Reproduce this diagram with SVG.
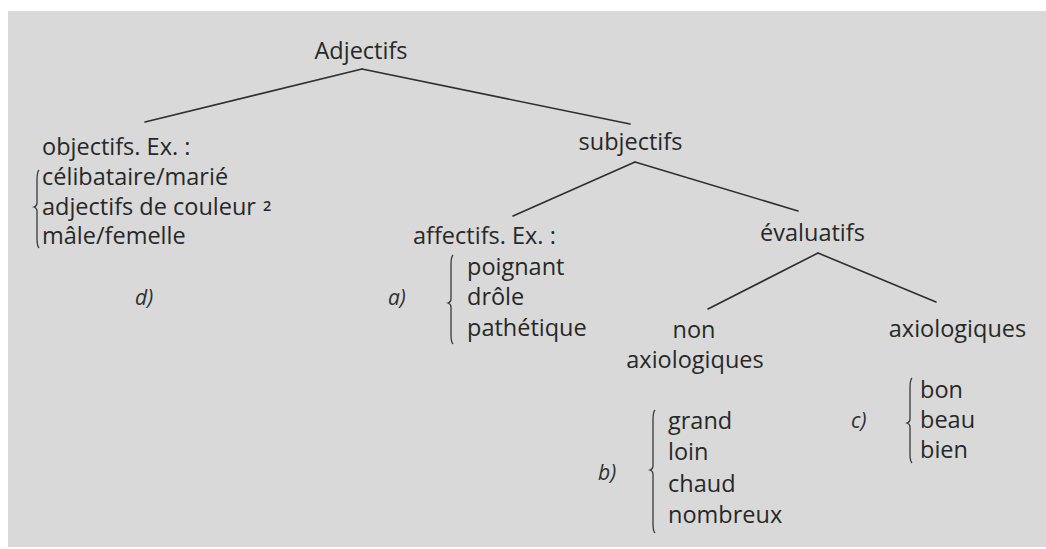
<svg xmlns="http://www.w3.org/2000/svg" width="1046" height="549" viewBox="0 0 1046 549">
<style>
.t{font-family:"Open Sans",Lato,"Liberation Sans",sans-serif;font-size:23.5px;fill:#282828;font-variant-ligatures:none}
.i{font-family:"Open Sans",Lato,"Liberation Sans",sans-serif;font-size:21px;font-style:italic;fill:#2e2e2e}
.e{stroke:#2e2e2e;stroke-width:1.6;fill:none;stroke-linecap:round}
.b{stroke:#3a3a3a;stroke-width:1.3;fill:none}
</style>
<rect width="1046" height="549" fill="#ffffff"/>
<rect x="8" y="11" width="1038" height="536" fill="#d9d9d9"/>
<g id="connectors">
<line class="e" x1="362" y1="69" x2="145" y2="122"/>
<line class="e" x1="362" y1="69" x2="630" y2="124"/>
<line class="e" x1="635" y1="162" x2="513" y2="216"/>
<line class="e" x1="635" y1="162" x2="798" y2="211"/>
<line class="e" x1="818" y1="253" x2="708" y2="309"/>
<line class="e" x1="818" y1="253" x2="936" y2="302"/>
</g>
<g id="adjectifs"><text class="t" x="361" y="59" text-anchor="middle">Adjectifs</text></g>
<g id="objectifs">
<text class="t" x="42" y="155">objectifs. Ex. :</text>
<path class="b" d="M39,170 Q37,172 37,180 L37,203 Q37,206 34,207 Q37,208 37,211 L37,238 Q37,246 39,248"/>
<text class="t" x="42" y="185">célibataire/marié</text>
<text class="t" x="42" y="215">adjectifs de couleur</text>
<text class="t" x="263" y="211" style="font-size:14.5px;font-weight:600">2</text>
<text class="t" x="42" y="244">mâle/femelle</text>
<text class="i" x="135" y="305">d)</text>
</g>
<g id="subjectifs"><text class="t" x="630.5" y="150" text-anchor="middle">subjectifs</text></g>
<g id="affectifs">
<text class="t" x="413" y="244">affectifs. Ex. :</text>
<path class="b" d="M453,255 Q451,257 451,265 L451,299 Q451,302 448,303 Q451,304 451,307 L451,335 Q451,342 453,344"/>
<text class="t" x="467" y="275">poignant</text>
<text class="t" x="467" y="305">drôle</text>
<text class="t" x="467" y="336">pathétique</text>
<text class="i" x="388" y="305">a)</text>
</g>
<g id="evaluatifs"><text class="t" x="812.5" y="241" text-anchor="middle">évaluatifs</text></g>
<g id="non-axiologiques">
<text class="t" x="694" y="338" text-anchor="middle">non</text>
<text class="t" x="695" y="368" text-anchor="middle">axiologiques</text>
<path class="b" d="M655,410 Q653,412 653,420 L653,466 Q653,469 650,470 Q653,471 653,474 L653,524 Q653,531 655,533"/>
<text class="t" x="668" y="429">grand</text>
<text class="t" x="668" y="460">loin</text>
<text class="t" x="668" y="492">chaud</text>
<text class="t" x="668" y="523">nombreux</text>
<text class="i" x="598" y="480">b)</text>
</g>
<g id="axiologiques">
<text class="t" x="957.5" y="337" text-anchor="middle">axiologiques</text>
<path class="b" d="M912,378 Q910,380 910,388 L910,419 Q910,422 907,423 Q910,424 910,427 L910,454 Q910,461 912,463"/>
<text class="t" x="920" y="398">bon</text>
<text class="t" x="920" y="428">beau</text>
<text class="t" x="920" y="458">bien</text>
<text class="i" x="851" y="428">c)</text>
</g>
</svg>
